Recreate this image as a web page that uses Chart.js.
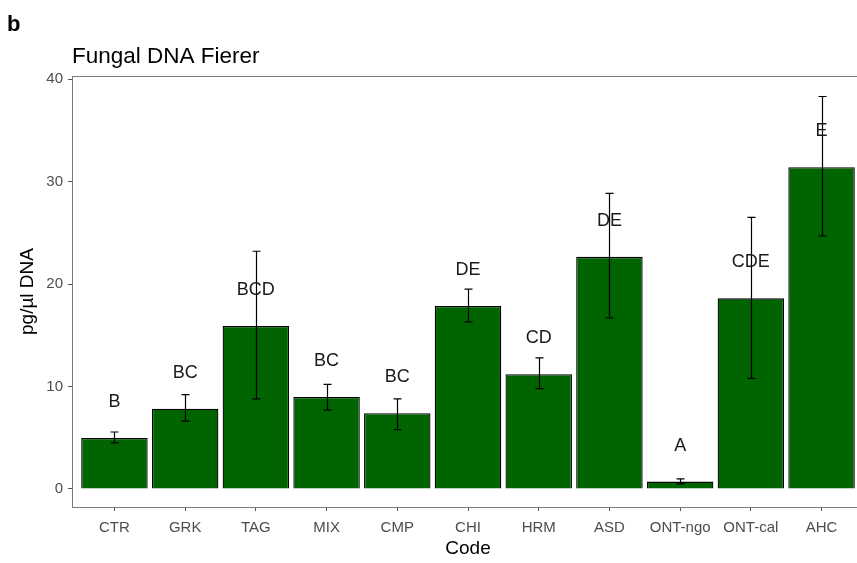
<!DOCTYPE html>
<html>
<head>
<meta charset="utf-8">
<script src="https://cdn.jsdelivr.net/npm/chart.js@4"></script>
<style>
  html, body { margin: 0; padding: 0; background: #fff; overflow: hidden; }
  #wrap { width: 870px; height: 563px; }
</style>
</head>
<body>
<div id="wrap"><canvas id="chart" width="870" height="563"></canvas></div>
<script>
const codes = ["CTR", "GRK", "TAG", "MIX", "CMP", "CHI", "HRM", "ASD", "ONT-ngo", "ONT-cal", "AHC"];
const means = [4.98, 7.83, 15.9, 8.98, 7.4, 17.85, 11.2, 22.65, 0.72, 18.6, 31.4];
const errLow = [4.49, 6.63, 8.8, 7.7, 5.8, 16.3, 9.8, 16.7, 0.49, 10.8, 24.7];
const errHigh = [5.56, 9.2, 23.2, 10.2, 8.8, 19.5, 12.8, 28.85, 0.98, 26.5, 38.3];
const letters = ["B", "BC", "BCD", "BC", "BC", "DE", "CD", "DE", "A", "CDE", "E"];
const yTicks = [0, 10, 20, 30, 40];

const FONT = "'Liberation Sans', Arial, sans-serif";

// error bars, group letters, panel box and headings
const extras = {
  id: "extras",
  afterDatasetsDraw(chart) {
    const { ctx, chartArea: a, scales: { x, y } } = chart;
    ctx.save();
    ctx.strokeStyle = "#000";
    ctx.lineWidth = 1.2;
    codes.forEach((c, i) => {
      const px = Math.round(x.getPixelForValue(i)) + 0.5;
      const top = y.getPixelForValue(errHigh[i]);
      const bot = y.getPixelForValue(errLow[i]);
      ctx.beginPath();
      ctx.moveTo(px, top); ctx.lineTo(px, bot);
      ctx.moveTo(px - 4, top); ctx.lineTo(px + 4, top);
      ctx.moveTo(px - 4, bot); ctx.lineTo(px + 4, bot);
      ctx.stroke();
    });
    ctx.fillStyle = "#1a1a1a";
    ctx.font = "18px " + FONT;
    ctx.textAlign = "center";
    ctx.textBaseline = "middle";
    letters.forEach((l, i) => {
      ctx.fillText(l, x.getPixelForValue(i), y.getPixelForValue(means[i] + 3.5));
    });
    // panel border
    ctx.strokeStyle = "#7a7a7a";
    ctx.lineWidth = 1;
    ctx.strokeRect(Math.round(a.left) + 0.5, Math.round(a.top) + 0.5,
      Math.round(a.right - a.left), Math.round(a.bottom - a.top));
    // headings
    ctx.textAlign = "left";
    ctx.textBaseline = "alphabetic";
    ctx.fillStyle = "#000";
    ctx.font = "bold 22px " + FONT;
    ctx.fillText("b", 7, 31);
    ctx.font = "22.5px " + FONT;
    ctx.fillText("Fungal DNA Fierer", 72, 63);
    ctx.restore();
  }
};

new Chart(document.getElementById("chart"), {
  type: "bar",
  data: {
    datasets: [{
      data: means.map((v, i) => ({ x: i, y: v })),
      backgroundColor: "#006400",
      borderColor: "#000",
      borderWidth: 1.3,
      barPercentage: 0.94,
      categoryPercentage: 1
    }]
  },
  options: {
    responsive: false,
    animation: false,
    layout: { padding: { top: 76, right: 6, left: 0, bottom: 0 } },
    plugins: { legend: { display: false }, tooltip: { enabled: false } },
    scales: {
      x: {
        type: "linear",
        offset: false,
        min: -0.6,
        max: 10.6,
        afterBuildTicks: (s) => { s.ticks = codes.map((c, i) => ({ value: i })); },
        afterFit: (s) => { s.height = 56; },
        ticks: {
          callback: (v) => codes[v],
          color: "#4d4d4d",
          font: { family: FONT, size: 15 },
          padding: 8,
          maxRotation: 0,
          autoSkip: false
        },
        grid: { offset: false, drawOnChartArea: false, tickLength: 4, tickColor: "#555" },
        border: { display: false },
        title: {
          display: true,
          text: "Code",
          color: "#000",
          font: { family: FONT, size: 19 },
          padding: { top: 0, bottom: 3 }
        }
      },
      y: {
        min: -1.76,
        max: 40.3,
        afterBuildTicks: (s) => { s.ticks = yTicks.map((v) => ({ value: v })); },
        afterFit: (s) => { s.width = 72; },
        ticks: {
          color: "#4d4d4d",
          font: { family: FONT, size: 15 },
          padding: 5
        },
        grid: { drawOnChartArea: false, tickLength: 4, tickColor: "#555" },
        border: { display: false },
        title: {
          display: true,
          text: "pg/µl DNA",
          color: "#000",
          font: { family: FONT, size: 19 },
          padding: { top: 16, bottom: 0 }
        }
      }
    }
  },
  plugins: [extras]
});
</script>
</body>
</html>
